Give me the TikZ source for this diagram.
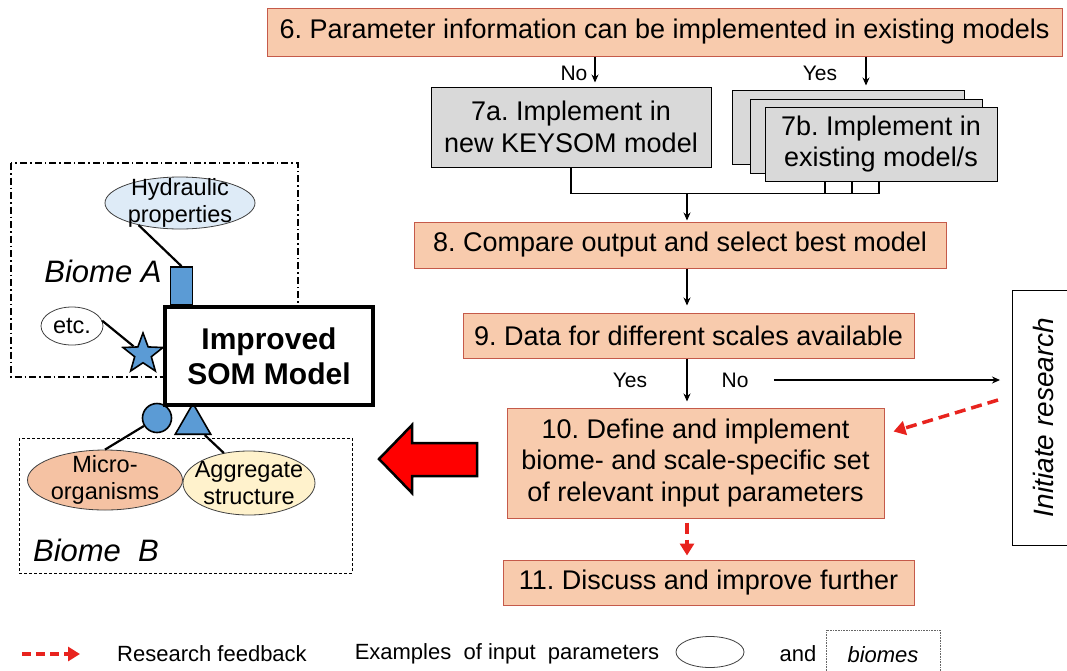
\documentclass[tikz,border=0pt]{standalone}
\usepackage{fontspec}
\setmainfont{Liberation Sans}
\usepackage{xcolor}
\usetikzlibrary{positioning, calc, arrows.meta, shapes.geometric}
\frenchspacing

\begin{document}
\begin{tikzpicture}[
  x=1pt, y=-1pt,
  font=\fontsize{27}{31.5}\selectfont,
  >={Stealth[length=8pt,width=7pt]},
  line/.style={black, line width=1.2pt},
  stepbox/.style={draw=boxedge, fill=boxfill, line width=1pt, align=center, inner sep=0pt},
  modelbox/.style={draw=black, fill=boxgray, line width=1pt, align=center, inner sep=0pt,
                   minimum width=232pt, minimum height=74pt},
  param/.style={ellipse, draw=black!75, line width=0.8pt, inner sep=0pt},
  ptext/.style={align=center, inner sep=0pt, font=\fontsize{23.5}{27}\selectfont},
  symb/.style={draw=black, fill=symblue, line width=1.6pt, inner sep=0pt},
  tie/.style={black, line width=2.2pt},
  biometxt/.style={font=\itshape\fontsize{31}{35}\selectfont},
  feedback/.style={feedred, line width=3.5pt, dash pattern=on 11pt off 6pt,
                   -{Triangle[length=12pt,width=14pt]}},
]
\definecolor{boxfill}{HTML}{F8CBAD}
\definecolor{boxedge}{HTML}{C55A4A}
\definecolor{boxgray}{HTML}{D9D9D9}
\definecolor{symblue}{HTML}{5B9BD5}
\definecolor{hydblue}{HTML}{DEEBF7}
\definecolor{micfill}{HTML}{F5C2A3}
\definecolor{aggfill}{HTML}{FFF2CC}
\definecolor{feedred}{HTML}{E8231E}

\useasboundingbox (0,0) rectangle (1067,670);

% =====================================================================
% Flow chart (steps 6 to 11)
% =====================================================================
\node[stepbox, minimum width=795pt, minimum height=48pt] (s6) at (664.5,32)
  {6. Parameter information can be implemented in existing models};

\node[modelbox, minimum width=280pt, minimum height=80pt] (s7a) at (571,127)
  {7a. Implement in\\new KEYSOM model};
\node[modelbox] (s7bback) at (848,127) {};
\node[modelbox] (s7bmid) at (866,136) {};
\node[modelbox] (s7b) at (881,144) {7b. Implement in\\existing model/s};

\node[font=\fontsize{21}{25}\selectfont] (no6) at (574,73) {No};
\node[font=\fontsize{21}{25}\selectfont] (yes6) at (820,73) {Yes};
\draw[line, ->, shorten >=4pt] (s6.south -| 595,0) -- (s7a.north -| 595,0);
\draw[line, ->, shorten >=4pt] (s6.south -| 866,0) -- (s7bback.north -| 866,0);

% join of 7a and 7b
\coordinate (join) at (687,193);
\draw[line] (s7a.south) |- ($(s7b.south)+(-2,12)$);
\foreach \dx in {-56,-29,-2} {
  \draw[line] ($(s7b.south)+(\dx,0)$) -- ++(0,12);
}

\node[stepbox, minimum width=532pt, minimum height=46pt] (s8) at (680,245)
  {8. Compare output and select best model};
\draw[line, ->, shorten >=1pt] (join) -- (s8.north -| join);

\node[stepbox, minimum width=451pt, minimum height=45pt] (s9) at (688.5,335.5)
  {9. Data for different scales available};
\draw[line, ->, shorten >=7pt] (s8.south -| join) -- (s9.north -| join);

\node[stepbox, minimum width=377pt, minimum height=110pt] (s10) at (695.5,463)
  {10. Define and implement\\biome- and scale-specific set\\of relevant input parameters};
\node[font=\fontsize{21}{25}\selectfont] (yes9) at (630,380) {Yes};
\node[font=\fontsize{21}{25}\selectfont] (no9) at (735,380) {No};
\draw[line, ->, shorten >=6pt] (s9.south -| join) -- (s10.north -| join);

\node[stepbox, minimum width=411pt, minimum height=45pt] (s11) at (708.5,582.5)
  {11. Discuss and improve further};
\draw[feedback, shorten <=4pt, shorten >=4pt] (s10.south -| join) -- (s11.north -| join);

% initiate research + feedback
\node[draw, line width=1pt, rotate=90, minimum width=255pt, minimum height=62pt,
      font=\itshape\fontsize{28}{32}\selectfont] (init) at (1043,417.5) {Initiate research};
\coordinate (noend) at (1000,380);
\draw[line, ->] ([xshift=22pt]no9.east) -- (noend);
\coordinate (fbstart) at (998,400);
\coordinate (fbend) at ($(s10.north east)+(9,24)$);
\draw[feedback] (fbstart) -- (fbend);

% big arrow towards the model
\filldraw[fill=red, draw=black, line width=2.5pt, line join=miter]
  (379,459) -- (412,425) -- (412,443) -- (477,443) -- (477,476)
  -- (412,476) -- (412,493) -- cycle;

% =====================================================================
% Improved SOM model with its input parameters
% =====================================================================
\draw[line width=1.2pt, dash pattern=on 7pt off 3pt on 1.5pt off 3pt] (11,163) rectangle (298,377);
\draw[line width=0.8pt, dash pattern=on 3pt off 2pt] (19,438) rectangle (352,573);
\node[biometxt] (biomeA) at (103,271) {Biome A};
\node[biometxt] (biomeB) at (96,550) {Biome\ \ B};

\node[param, fill=hydblue, minimum width=150pt, minimum height=52pt] (hyd) at (180,203) {};
\node[ptext] (hydtxt) at (hyd) {Hydraulic\\properties};
\node[param, fill=white, minimum width=62pt, minimum height=38pt] (etc) at (72,326) {};
\node[ptext] (etctxt) at (etc) {etc.};
\node[param, fill=micfill, minimum width=155pt, minimum height=60pt] (mic) at (105,480) {};
\node[ptext] (mictxt) at (mic) {Micro-\\organisms};
\node[param, fill=aggfill, minimum width=132pt, minimum height=64pt] (agg) at (249,483) {};
\node[ptext] (aggtxt) at (agg) {Aggregate\\structure};

\node[symb, minimum width=22pt, minimum height=38pt] (hydsym) at (181.5,286) {};
\node[symb, star, star points=5, star point ratio=2.4, minimum size=42pt] (etcsym) at (143,354) {};
\node[symb, circle, minimum size=29pt] (micsym) at (157,418) {};
\node[symb, regular polygon, regular polygon sides=3, minimum size=41pt] (aggsym) at (193,424) {};

\draw[tie] (hyd.-152) -- (hydsym.north);
\draw[tie] (etc.10) -- (etcsym);
\draw[tie] (micsym) -- (mic.north);
\draw[tie] (aggsym) -- (agg.130);

\node[draw, line width=4pt, fill=white, minimum width=208pt, minimum height=98pt, align=center,
      font=\bfseries\fontsize{30}{35}\selectfont] (som) at (269,356) {Improved\\SOM Model};

% =====================================================================
% Legend
% =====================================================================
\coordinate (legA) at (22,654);
\coordinate (legB) at (80,654);
\draw[feedback, line width=3.5pt, dash pattern=on 9pt off 5pt] (legA) -- (legB);
\node[font=\fontsize{22}{26}\selectfont] (legfb) at (212,654) {Research feedback};
\node[font=\fontsize{22}{26}\selectfont] (legex) at (507,654) {Examples\ \ of input\ \ parameters};
\node[param, fill=white, minimum width=68pt, minimum height=31pt] (legell) at (710,652) {};
\node[font=\fontsize{22}{26}\selectfont] (legand) at (798,654) {and};
\node[draw=black!60, line width=0.6pt, densely dotted, minimum width=114pt, minimum height=50pt,
      font=\itshape\fontsize{22}{26}\selectfont] (legbiome) at (883,655) {biomes};
\end{tikzpicture}
\end{document}
